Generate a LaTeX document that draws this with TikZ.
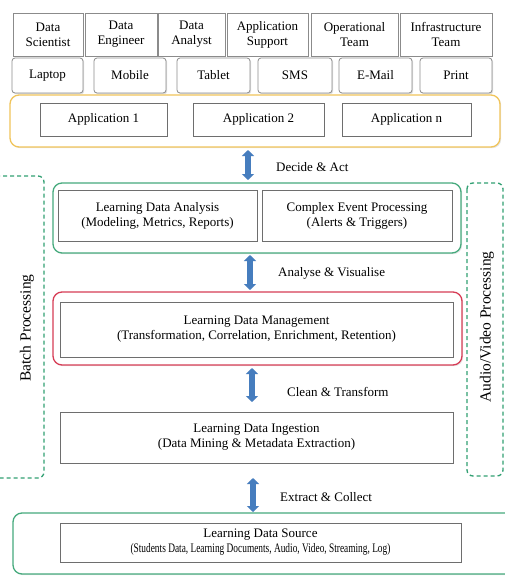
\documentclass[tikz,border=0pt]{standalone}
\usepackage{fontspec}
\setmainfont{Liberation Serif}
\usetikzlibrary{arrows.meta,shadows}
\definecolor{boxgray}{RGB}{110,110,110}
\definecolor{ygold}{RGB}{240,196,90}
\definecolor{tgreen}{RGB}{70,170,125}
\definecolor{dgreen}{RGB}{50,160,115}
\definecolor{cred}{RGB}{215,60,85}
\definecolor{abblue}{RGB}{70,125,190}
\tikzset{
  txt/.style={font=\fontsize{13}{15}\selectfont, align=center, inner sep=1pt},
  rolebox/.style={txt, draw=boxgray!80, line width=0.8pt, fill=white,
     drop shadow={opacity=0.25, shadow xshift=1.2pt, shadow yshift=-1.2pt},
     minimum height=43pt},
  devbox/.style={rolebox, rounded corners=3pt, minimum height=35pt},
  innerbox/.style={txt, draw=boxgray, line width=0.8pt, fill=white,
     drop shadow={opacity=0.2, shadow xshift=1pt, shadow yshift=-1pt}},
  outerbox/.style={draw, line width=1.3pt, rounded corners=9pt, fill=white,
     drop shadow={opacity=0.2, shadow xshift=1.2pt, shadow yshift=-1.2pt}, inner sep=0pt},
  dashbox/.style={draw=dgreen, dashed, dash pattern=on 4pt off 3pt, line width=1.3pt, rounded corners=6pt},
  bigarrow/.style={draw=abblue, line width=5.5pt,
     {Triangle[width=12pt,length=6pt]}-{Triangle[width=12pt,length=6pt]}},
  albl/.style={font=\fontsize{13}{15}\selectfont, anchor=west, inner sep=0pt},
  vlbl/.style={font=\fontsize{15.5}{18}\selectfont, rotate=90, inner sep=0pt}
}
\begin{document}
\begin{tikzpicture}[x=1pt,y=-1pt]
\useasboundingbox (0,0) rectangle (505,576);
\fill[white] (0,0) rectangle (505,576);

% side dashed boxes
\draw[dashbox] (-8,176) rectangle (44,478);
\node[vlbl] (batch) at (27,328) {Batch Processing};
\draw[dashbox] (467,183) rectangle (503,476);
\node[vlbl] (av) at (487,327) {Audio/Video Processing};

% roles
\node[rolebox, minimum width=70pt] (ds) at (48,34.5) {Data\\Scientist};
\node[rolebox, minimum width=72pt] (de) at (121,34.5) {Data\\Engineer};
\node[rolebox, minimum width=67pt] (da) at (191.5,34.5) {Data\\Analyst};
\node[rolebox, minimum width=81pt] (as) at (267.5,34.5) {Application\\Support};
\node[rolebox, minimum width=87pt] (ot) at (354.5,34.5) {Operational\\Team};
\node[rolebox, minimum width=92pt] (it) at (446,34.5) {Infrastructure\\Team};

% devices
\node[devbox, minimum width=71pt] (lap) at (47.5,75.5) {Laptop};
\node[devbox, minimum width=72pt] (mob) at (130,75.5) {Mobile};
\node[devbox, minimum width=73pt] (tab) at (213.5,75.5) {Tablet};
\node[devbox, minimum width=74pt] (sms) at (295,75.5) {SMS};
\node[devbox, minimum width=73pt] (mail) at (375.5,75.5) {E-Mail};
\node[devbox, minimum width=72pt] (prn) at (456,75.5) {Print};

% applications
\node[outerbox, draw=ygold, minimum width=490pt, minimum height=52pt] (apps) at (255,121) {};
\node[innerbox, minimum width=127pt, minimum height=33pt] (app1) at (103.5,119.5) {Application 1};
\node[innerbox, minimum width=131pt, minimum height=33pt] (app2) at (258.5,119.5) {Application 2};
\node[innerbox, minimum width=129pt, minimum height=33pt] (appn) at (406.5,119.5) {Application n};

% analysis
\node[outerbox, draw=tgreen, minimum width=408pt, minimum height=70pt] (ana) at (257,218) {};
\node[innerbox, minimum width=199pt, minimum height=51pt] (lda) at (157.5,215.5) {Learning Data Analysis\\(Modeling, Metrics, Reports)};
\node[innerbox, minimum width=190pt, minimum height=51pt] (cep) at (357,215.5) {Complex Event Processing\\(Alerts \& Triggers)};

% management
\node[outerbox, draw=cred, minimum width=409pt, minimum height=73pt] (mgmt) at (257.5,328.5) {};
\node[innerbox, minimum width=393pt, minimum height=55pt] (ldm) at (256.5,329.5) {Learning Data Management\\(Transformation, Correlation, Enrichment, Retention)};

% ingestion
\node[innerbox, minimum width=393pt, minimum height=51pt] (ing) at (256.5,437.5) {Learning Data Ingestion\\(Data Mining \& Metadata Extraction)};

% source
\node[outerbox, draw=tgreen, minimum width=502pt, minimum height=61pt] (src) at (264,543.5) {};
\node[innerbox, minimum width=401pt, minimum height=39pt] (lds) at (260.5,542.5) {Learning Data Source\\\scalebox{0.72}[1]{(Students Data, Learning Documents, Audio, Video, Streaming, Log)}};

% arrows
\coordinate (a1t) at (248,150); \coordinate (a1b) at (248,180);
\draw[bigarrow] (a1t) -- (a1b);
\node[albl] (l1) at (276,167) {Decide \& Act};
\coordinate (a2t) at (250,255); \coordinate (a2b) at (250,290);
\draw[bigarrow] (a2t) -- (a2b);
\node[albl] (l2) at (278,273) {Analyse \& Visualise};
\coordinate (a3t) at (252,368); \coordinate (a3b) at (252,402);
\draw[bigarrow] (a3t) -- (a3b);
\node[albl] (l3) at (287,392) {Clean \& Transform};
\coordinate (a4t) at (253,478); \coordinate (a4b) at (253,512);
\draw[bigarrow] (a4t) -- (a4b);
\node[albl] (l4) at (280,497) {Extract \& Collect};
\end{tikzpicture}
\end{document}
